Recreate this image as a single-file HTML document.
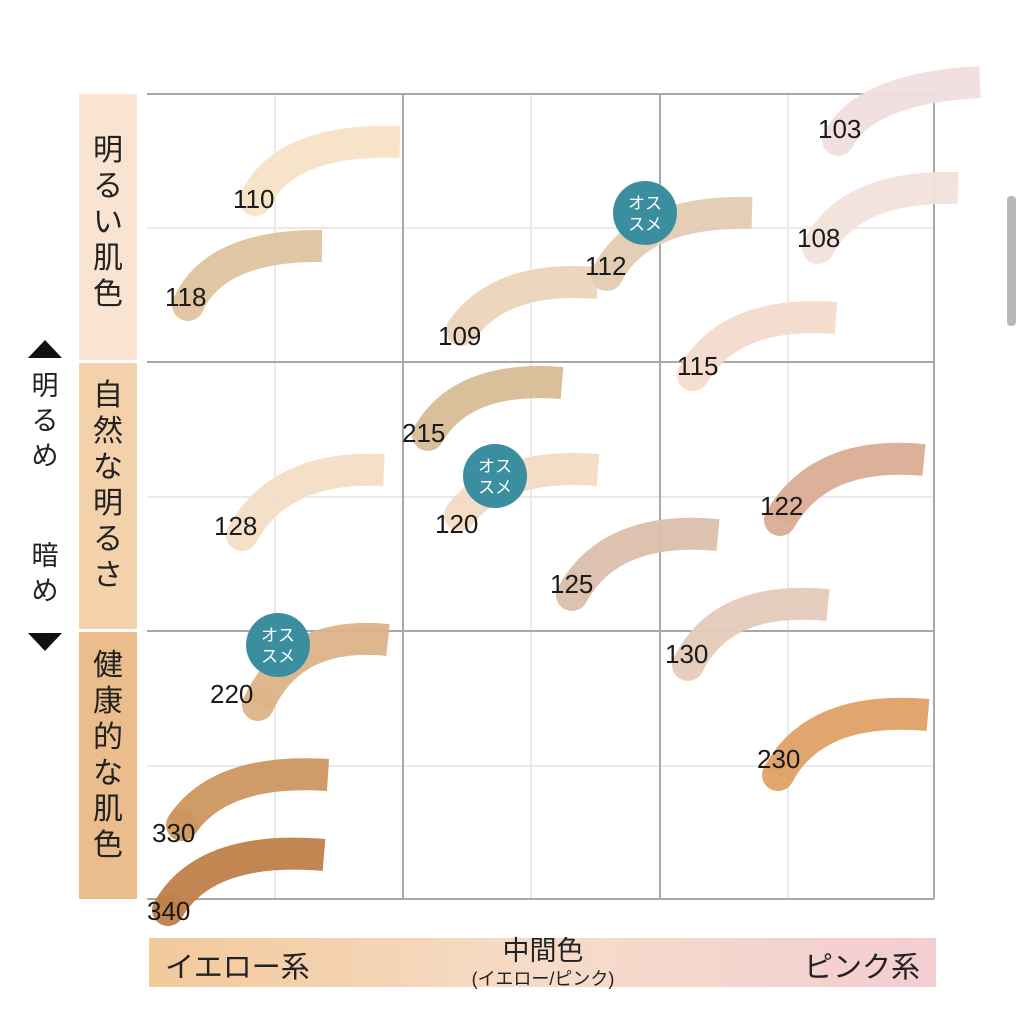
<!DOCTYPE html>
<html><head><meta charset="utf-8"><style>
html,body{margin:0;padding:0;background:#fff;width:1024px;height:1009px;overflow:hidden}
svg{display:block}
text{font-family:"Liberation Sans","Noto Sans CJK JP",sans-serif}
</style></head><body>
<svg width="1024" height="1009" viewBox="0 0 1024 1009" xmlns="http://www.w3.org/2000/svg">
<defs>
<linearGradient id="bg" x1="0" x2="1" y1="0" y2="0">
<stop offset="0" stop-color="#f3c99a"/><stop offset="0.5" stop-color="#f6dcc8"/><stop offset="1" stop-color="#f3cdd2"/>
</linearGradient>
</defs>
<rect x="1007" y="196" width="9" height="130" rx="4" fill="#b8b8b8"/>
<g stroke="#e4e4e4" stroke-width="1.5" fill="none">
<line x1="275" y1="94" x2="275" y2="899"/><line x1="531" y1="94" x2="531" y2="899"/><line x1="788" y1="94" x2="788" y2="899"/>
<line x1="147" y1="228" x2="934" y2="228"/><line x1="147" y1="497" x2="934" y2="497"/><line x1="147" y1="766" x2="934" y2="766"/>
</g>
<g stroke="#a8a8a8" stroke-width="2" fill="none">
<line x1="147" y1="94" x2="934" y2="94"/><line x1="147" y1="362" x2="934" y2="362"/><line x1="147" y1="631" x2="934" y2="631"/><line x1="147" y1="899" x2="934" y2="899"/>
<line x1="403" y1="94" x2="403" y2="899"/><line x1="660" y1="94" x2="660" y2="899"/><line x1="934" y1="94" x2="934" y2="899"/>
</g>
<rect x="79" y="94" width="58" height="266" fill="#f8e4d0"/>
<rect x="79" y="363" width="58" height="266" fill="#f3d1ab"/>
<rect x="79" y="632" width="58" height="267" fill="#ebbd8c"/>
<g font-size="30" fill="#222" text-anchor="middle">
<text x="108" y="160">明</text><text x="108" y="196">る</text><text x="108" y="232">い</text><text x="108" y="268">肌</text><text x="108" y="304">色</text>
<text x="108" y="405">自</text><text x="108" y="441">然</text><text x="108" y="477">な</text><text x="108" y="513">明</text><text x="108" y="549">る</text><text x="108" y="585">さ</text>
<text x="108" y="675">健</text><text x="108" y="711">康</text><text x="108" y="747">的</text><text x="108" y="783">な</text><text x="108" y="819">肌</text><text x="108" y="855">色</text>
</g>
<polygon points="45,340 28,358 62,358" fill="#111"/>
<polygon points="28,633 62,633 45,651" fill="#111"/>
<g font-size="27" fill="#222" text-anchor="middle">
<text x="45" y="395">明</text><text x="45" y="430">る</text><text x="45" y="465">め</text>
<text x="45" y="565">暗</text><text x="45" y="600">め</text>
</g>
<g fill="none" stroke-linecap="butt" stroke-width="32" opacity="0.95">
<path d="M838,140 Q865,88 980,82" stroke="#f2dfdf"/>
<path d="M255,200 Q285,138 400,142" stroke="#f7e3c6"/>
<path d="M188,305 Q215,245 322,246" stroke="#e0c3a0"/>
<path d="M607,275 Q640,210 752,213" stroke="#e3ccb2"/>
<path d="M818,248 Q850,185 958,188" stroke="#f3e2dc"/>
<path d="M462,330 Q500,275 598,283" stroke="#ecd5bb"/>
<path d="M693,375 Q730,310 836,318" stroke="#f4dbcc"/>
<path d="M428,435 Q462,375 562,383" stroke="#d8bd96"/>
<path d="M460,515 Q500,462 598,470" stroke="#f3dcc3"/>
<path d="M242,535 Q280,465 384,470" stroke="#f4dfc6"/>
<path d="M780,520 Q820,450 924,460" stroke="#dbac94"/>
<path d="M572,595 Q610,525 718,535" stroke="#dbbfab"/>
<path d="M688,665 Q722,595 828,605" stroke="#e5ccbb"/>
<path d="M258,705 Q292,630 388,640" stroke="#ddb489"/>
<path d="M778,775 Q815,705 928,715" stroke="#e0a267"/>
<path d="M182,825 Q220,768 328,775" stroke="#cd965f"/>
<path d="M168,910 Q205,845 324,855" stroke="#bf8049"/>
</g>
<g opacity="0.95">
<circle cx="838" cy="140" r="16" fill="#f2dfdf"/><circle cx="255" cy="200" r="16" fill="#f7e3c6"/>
<circle cx="188" cy="305" r="16" fill="#e0c3a0"/><circle cx="607" cy="275" r="16" fill="#e3ccb2"/>
<circle cx="818" cy="248" r="16" fill="#f3e2dc"/><circle cx="462" cy="330" r="16" fill="#ecd5bb"/>
<circle cx="693" cy="375" r="16" fill="#f4dbcc"/><circle cx="428" cy="435" r="16" fill="#d8bd96"/>
<circle cx="460" cy="515" r="16" fill="#f3dcc3"/><circle cx="242" cy="535" r="16" fill="#f4dfc6"/>
<circle cx="780" cy="520" r="16" fill="#dbac94"/><circle cx="572" cy="595" r="16" fill="#dbbfab"/>
<circle cx="688" cy="665" r="16" fill="#e5ccbb"/><circle cx="258" cy="705" r="16" fill="#ddb489"/>
<circle cx="778" cy="775" r="16" fill="#e0a267"/><circle cx="182" cy="825" r="16" fill="#cd965f"/>
<circle cx="168" cy="910" r="16" fill="#bf8049"/>
</g>
<g font-size="26" fill="#1a1a1a">
<text x="818" y="138">103</text><text x="233" y="208">110</text><text x="165" y="306">118</text>
<text x="585" y="275">112</text><text x="797" y="247">108</text><text x="438" y="345">109</text>
<text x="677" y="375">115</text><text x="402" y="442">215</text><text x="435" y="533">120</text>
<text x="214" y="535">128</text><text x="760" y="515">122</text><text x="550" y="593">125</text>
<text x="665" y="663">130</text><text x="210" y="703">220</text><text x="757" y="768">230</text>
<text x="152" y="842">330</text><text x="147" y="920">340</text>
</g>
<g>
<circle cx="645" cy="213" r="32" fill="#3b8e9f"/>
<circle cx="495" cy="476" r="32" fill="#3b8e9f"/>
<circle cx="278" cy="645" r="32" fill="#3b8e9f"/>
</g>
<g font-size="17" fill="#fff" text-anchor="middle">
<text x="645" y="209">オス</text><text x="645" y="230">スメ</text>
<text x="495" y="472">オス</text><text x="495" y="493">スメ</text>
<text x="278" y="641">オス</text><text x="278" y="662">スメ</text>
</g>
<rect x="149" y="938" width="787" height="49" fill="url(#bg)"/>
<g fill="#222">
<text x="165" y="977" font-size="29">イエロー系</text>
<text x="543" y="960" font-size="27" text-anchor="middle">中間色</text>
<text x="543" y="985" font-size="18" text-anchor="middle">(イエロー/ピンク)</text>
<text x="920" y="977" font-size="29" text-anchor="end">ピンク系</text>
</g>
</svg>
</body></html>
